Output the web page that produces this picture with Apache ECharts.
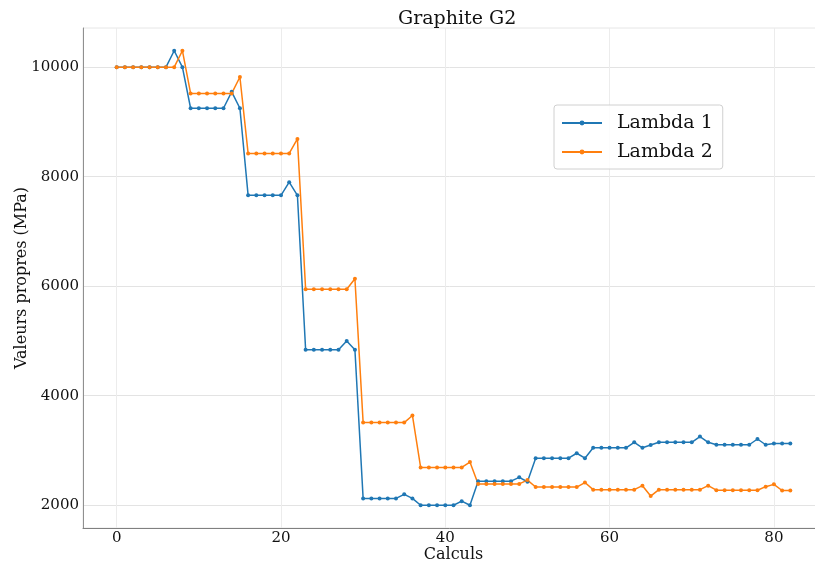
<!DOCTYPE html>
<html>
<head>
<meta charset="utf-8">
<script src="https://cdn.jsdelivr.net/npm/echarts@6/dist/echarts.min.js"></script>
<style>
  html, body { margin: 0; padding: 0; background: #ffffff; }
  #chart { width: 815px; height: 562px; }
</style>
</head>
<body>
<div id="chart"></div>
<script>
// Eigenvalues (MPa) for each calculation step, index = calculation number
const lambda1 = [
  10000, 10000, 10000, 10000, 10000, 10000, 10000, 10300, 10000,
  9250, 9250, 9250, 9250, 9250, 9550, 9250,
  7660, 7660, 7660, 7660, 7660, 7900, 7660,
  4840, 4840, 4840, 4840, 4840, 5000, 4840,
  2125, 2125, 2125, 2125, 2125, 2200, 2125,
  2000, 2000, 2000, 2000, 2000, 2075, 2000,
  2440, 2440, 2440, 2440, 2440, 2510, 2430,
  2860, 2860, 2860, 2860, 2860, 2950, 2860,
  3050, 3050, 3050, 3050, 3050, 3150, 3050, 3100,
  3150, 3150, 3150, 3150, 3150, 3255, 3150,
  3105, 3105, 3105, 3105, 3105, 3210, 3105,
  3130, 3130, 3130
];
const lambda2 = [
  10000, 10000, 10000, 10000, 10000, 10000, 10000, 10000, 10300,
  9520, 9520, 9520, 9520, 9520, 9520, 9820,
  8425, 8425, 8425, 8425, 8425, 8425, 8690,
  5945, 5945, 5945, 5945, 5945, 5945, 6135,
  3510, 3510, 3510, 3510, 3510, 3510, 3640,
  2690, 2690, 2690, 2690, 2690, 2690, 2790,
  2390, 2390, 2390, 2390, 2390, 2390, 2460,
  2333, 2333, 2333, 2333, 2333, 2333, 2415,
  2285, 2285, 2285, 2285, 2285, 2285, 2358, 2168,
  2285, 2285, 2285, 2285, 2285, 2285, 2358,
  2275, 2275, 2275, 2275, 2275, 2275, 2340, 2382,
  2270, 2270
];
const seriesNames = ['Lambda 1', 'Lambda 2'];
const xTicks = [0, 20, 40, 60, 80];
const yTicks = [2000, 4000, 6000, 8000, 10000];

const FONT = '"DejaVu Serif", serif';
const toPairs = arr => arr.map((v, i) => [i, v]);

const chart = echarts.init(document.getElementById('chart'), null, { renderer: 'canvas' });

function lineSeries(name, values, color) {
  return {
    name: name,
    type: 'line',
    data: toPairs(values),
    symbol: 'circle',
    symbolSize: 4,
    showSymbol: true,
    showAllSymbol: true,
    lineStyle: { color: color, width: 1.5 },
    itemStyle: { color: color },
    emphasis: { disabled: true },
    animation: false
  };
}

chart.setOption({
  animation: false,
  backgroundColor: '#ffffff',
  title: {
    text: 'Graphite G2',
    left: 393,
    top: 5,
    textStyle: { fontFamily: FONT, fontSize: 19, fontWeight: 'normal', color: '#111' }
  },
  legend: {
    data: seriesNames,
    orient: 'vertical',
    left: 554,
    top: 105,
    padding: [6, 10, 5, 7],
    itemGap: 5,
    itemWidth: 40,
    itemHeight: 6,
    backgroundColor: 'rgba(255,255,255,0.85)',
    borderColor: '#d0d0d0',
    borderWidth: 1,
    borderRadius: 3,
    textStyle: { fontFamily: FONT, fontSize: 19, color: '#111', lineHeight: 24, padding: [0, 0, 0, 10] }
  },
  grid: {
    left: 83,
    right: -9,
    top: 28,
    bottom: 34,
    show: true,
    borderColor: '#e6e6e6',
    borderWidth: 1,
    containLabel: false,
    outerBoundsMode: 'none'
  },
  xAxis: {
    type: 'value',
    min: -4.1,
    max: 86.1,
    name: 'Calculs',
    nameLocation: 'middle',
    nameGap: 19,
    nameMoveOverlap: false,
    nameTextStyle: { fontFamily: FONT, fontSize: 16, color: '#111' },
    axisLine: { show: true, onZero: false, lineStyle: { color: '#808080', width: 1 } },
    axisTick: { show: false, customValues: xTicks },
    axisLabel: { customValues: xTicks, fontFamily: FONT, fontSize: 15, color: '#111', margin: 3 },
    splitLine: { show: true, lineStyle: { color: '#ececec', width: 1 } }
  },
  yAxis: {
    type: 'value',
    min: 1585,
    max: 10715,
    name: 'Valeurs propres (MPa)',
    nameLocation: 'middle',
    nameGap: 53,
    nameMoveOverlap: false,
    nameTextStyle: { fontFamily: FONT, fontSize: 16, color: '#111' },
    axisLine: { show: true, onZero: false, lineStyle: { color: '#909090', width: 1 } },
    axisTick: { show: false, customValues: yTicks },
    axisLabel: {
      customValues: yTicks,
      formatter: v => String(v),
      fontFamily: FONT, fontSize: 15, color: '#111', margin: 4
    },
    splitLine: { show: true, lineStyle: { color: '#e3e3e3', width: 1 } }
  },
  series: [
    lineSeries(seriesNames[0], lambda1, '#1f77b4'),
    lineSeries(seriesNames[1], lambda2, '#ff7f0e')
  ]
});
</script>
</body>
</html>
